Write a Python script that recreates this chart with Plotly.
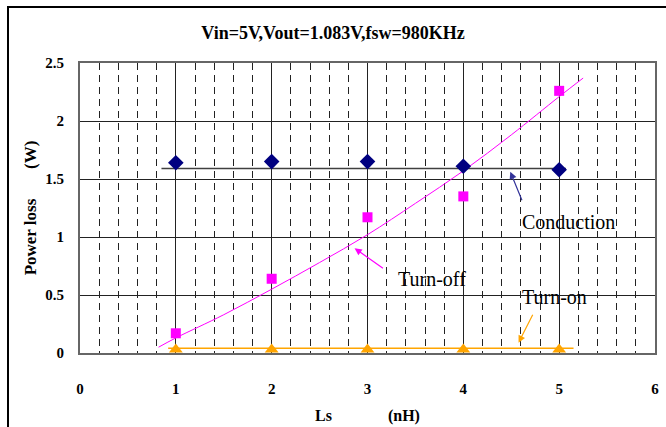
import plotly.graph_objects as go

# ---- data ----
ls_nh = [1, 2, 3, 4, 5]
conduction = [1.64, 1.65, 1.65, 1.61, 1.58]
turn_off = [0.17, 0.64, 1.17, 1.35, 2.26]
turn_on = [0.03, 0.03, 0.03, 0.03, 0.03]

# trend lines (as drawn in the reference)
cond_trend_x = [0.85, 5.07]
cond_trend_y = [1.59, 1.59]
off_trend_x = [0.82, 1.0, 1.5, 2.0, 2.5, 3.0, 3.5, 4.0, 4.5, 5.0, 5.25]
off_trend_y = [0.05, 0.13, 0.33, 0.55, 0.78, 1.02, 1.29, 1.57, 1.88, 2.21, 2.37]
on_trend_x = [0.92, 5.15]
on_trend_y = [0.04, 0.04]

x_ticks = [0, 1, 2, 3, 4, 5, 6]
y_ticks = [0, 0.5, 1, 1.5, 2, 2.5]

SERIF = "Liberation Serif"

fig = go.Figure()

fig.add_trace(go.Scatter(x=cond_trend_x, y=cond_trend_y, mode="lines",
                         line=dict(color="#404040", width=1.5), showlegend=False, hoverinfo="skip"))
fig.add_trace(go.Scatter(x=off_trend_x, y=off_trend_y, mode="lines", line_shape="spline",
                         line=dict(color="#FF00FF", width=1), showlegend=False, hoverinfo="skip"))
fig.add_trace(go.Scatter(x=on_trend_x, y=on_trend_y, mode="lines",
                         line=dict(color="#FFA500", width=1.5), showlegend=False, hoverinfo="skip"))

fig.add_trace(go.Scatter(x=ls_nh, y=conduction, mode="markers", name="Conduction",
                         marker=dict(symbol="diamond", size=12, color="#000080")))
fig.add_trace(go.Scatter(x=ls_nh, y=turn_off, mode="markers", name="Turn-off",
                         marker=dict(symbol="square", size=10, color="#FF00FF")))
fig.add_trace(go.Scatter(x=ls_nh, y=turn_on, mode="markers", name="Turn-on",
                         marker=dict(symbol="triangle-up", size=12, color="#FFA500")))

# white label boxes (cover gridlines)
boxes = [
    (4.479, 5.802, 0.957, 1.293),
    (3.177, 4.406, 0.483, 0.888),
    (4.479, 5.802, 0.353, 0.655),
]
for x0, x1, y0, y1 in boxes:
    fig.add_shape(type="rect", xref="x", yref="y", x0=x0, x1=x1, y0=y0, y1=y1,
                  fillcolor="white", line=dict(width=0), layer="below")

labels = [("Conduction", 5.094, 1.132), ("Turn-off", 3.677, 0.638), ("Turn-on", 4.948, 0.485)]
for txt, lx, ly in labels:
    fig.add_annotation(x=lx, y=ly, xref="x", yref="y", text=txt, showarrow=False,
                       font=dict(family=SERIF, size=20, color="black"))

arrows = [
    (4.49, 1.563, 4.618, 1.304, "#333399"),
    (2.865, 0.903, 3.177, 0.722, "#FF00FF"),
    (4.576, 0.089, 4.732, 0.342, "#FFA500"),
]
for hx, hy, tx, ty, col in arrows:
    fig.add_annotation(x=hx, y=hy, ax=tx, ay=ty, xref="x", yref="y", axref="x", ayref="y",
                       text="", showarrow=True, arrowhead=2, arrowsize=1.2, arrowwidth=1.2,
                       arrowcolor=col, standoff=0, startstandoff=0)

# outer frame
fig.add_shape(type="rect", xref="paper", yref="paper",
              x0=(8 - 80) / 575, x1=(700 - 80) / 575,
              y0=(353 - 460) / 290, y1=(353 - 7) / 290,
              line=dict(color="black", width=2), fillcolor="rgba(0,0,0,0)", layer="above")

fig.update_layout(
    width=666, height=427,
    margin=dict(l=80, r=11, t=63, b=74, autoexpand=False),
    paper_bgcolor="white", plot_bgcolor="white",
    showlegend=False,
    font=dict(family=SERIF, color="black"),
    title=dict(text="Vin=5V,Vout=1.083V,fsw=980KHz", x=0.5, xref="container",
               y=1 - 33 / 427, yref="container", yanchor="middle", xanchor="center",
               automargin=False,
               font=dict(family=SERIF, size=18, color="black", weight="bold")),
)

fig.update_xaxes(
    range=[0, 6], tickvals=x_ticks, ticktext=[str(v) for v in x_ticks],
    showgrid=True, gridcolor="#222", gridwidth=1,
    minor=dict(dtick=0.2, tick0=0, showgrid=True, gridcolor="#222", gridwidth=1, griddash="7px,5px"),
    showline=True, linecolor="#666", linewidth=2, mirror=True, zeroline=False,
    ticks="", ticklabelstandoff=21, automargin=False,
    tickfont=dict(family=SERIF, size=15, color="black", weight="bold"),
    title=dict(text="Ls\u00a0\u00a0\u00a0\u00a0\u00a0\u00a0\u00a0\u00a0\u00a0\u00a0\u00a0\u00a0\u00a0\u00a0(nH)", standoff=14,
               font=dict(family=SERIF, size=16, color="black", weight="bold")),
)
fig.update_yaxes(
    range=[0, 2.5], tickvals=y_ticks, ticktext=["0", "0.5", "1", "1.5", "2", "2.5"],
    showgrid=True, gridcolor="#222", gridwidth=1,
    showline=True, linecolor="#666", linewidth=2, mirror=True, zeroline=False,
    ticks="", ticklabelstandoff=11, automargin=False,
    tickfont=dict(family=SERIF, size=15, color="black", weight="bold"),
    title=dict(text="Power loss\u00a0\u00a0\u00a0\u00a0\u00a0\u00a0\u00a0(W)", standoff=4,
               font=dict(family=SERIF, size=17, color="black", weight="bold")),
)

fig.write_html("out.html", config={"displayModeBar": False},
               post_script="document.body.style.margin='0';")
